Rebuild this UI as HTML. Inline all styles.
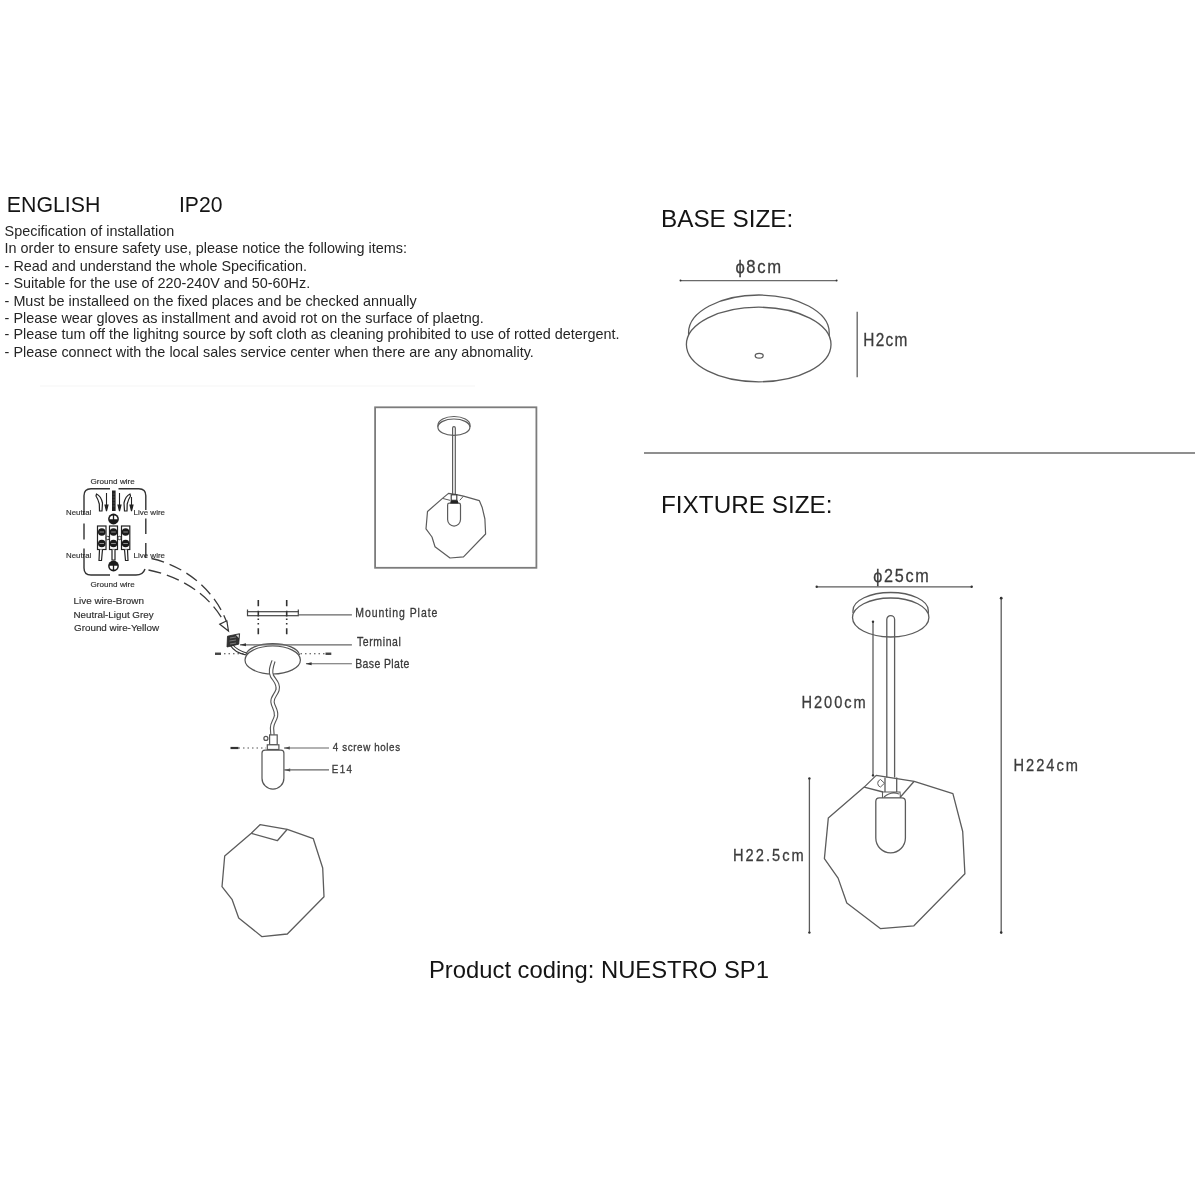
<!DOCTYPE html>
<html><head><meta charset="utf-8">
<style>
html,body{margin:0;padding:0;background:#fff;}
body{width:1200px;height:1200px;overflow:hidden;position:relative;}
svg{position:absolute;left:0;top:0;will-change:transform;}
text{font-family:"Liberation Sans",sans-serif;}
</style></head>
<body>
<svg width="1200" height="1200" viewBox="0 0 1200 1200">
<g fill="#141414">
<text x="6.8" y="212.3" font-size="21.7" textLength="93.5" lengthAdjust="spacingAndGlyphs">ENGLISH</text>
<text x="179" y="212.3" font-size="21.4" textLength="43.5" lengthAdjust="spacingAndGlyphs">IP20</text>
</g>
<g fill="#252525" font-size="14.4">
<text x="4.6" y="236.4">Specification of installation</text>
<text x="4.6" y="253.2">In order to ensure safety use, please notice the following items:</text>
<text x="4.6" y="270.8">- Read and understand the whole Specification.</text>
<text x="4.6" y="287.7">- Suitable for the use of 220-240V and 50-60Hz.</text>
<text x="4.6" y="305.5">- Must be installeed on the fixed places and be checked annually</text>
<text x="4.6" y="322.5">- Please wear gloves as installment and avoid rot on the surface of plaetng.</text>
<text x="4.6" y="339.3">- Please tum off the lighitng source by soft cloth as cleaning prohibited to use of rotted detergent.</text>
<text x="4.6" y="356.8">- Please connect with the local sales service center when there are any abnomality.</text>
</g>
<line x1="40" y1="386" x2="475" y2="386" stroke="#f5f5f5" stroke-width="1"/>
<g fill="#141414">
<text x="661" y="226.7" font-size="24.3">BASE SIZE:</text>
<text x="661" y="512.5" font-size="24.3">FIXTURE SIZE:</text>
<text x="429" y="977.7" font-size="23.8">Product coding: NUESTRO SP1</text>
</g>
<line x1="644" y1="453" x2="1195" y2="453" stroke="#8f8f8f" stroke-width="2"/>
<g fill="none" stroke="#5c5c5c" stroke-width="1.3">
<line x1="680.5" y1="280.7" x2="836.6" y2="280.7" stroke="#6a6a6a" stroke-width="1.3"/>
<line x1="857.2" y1="311.8" x2="857.2" y2="377.2" stroke="#6a6a6a" stroke-width="1.4"/>
<path d="M688.6 341 L688.6 332.5 A70.3 37.5 0 0 1 829.2 332.5 L829.2 340"/>
<ellipse cx="758.7" cy="344.5" rx="72.3" ry="37.3" fill="#fff"/>
<ellipse cx="759.2" cy="355.7" rx="4" ry="2.4"/>
</g>
<g transform="translate(735.4,272.5) scale(0.9,1)"><text x="0" y="0" font-size="18.5" textLength="50.78" lengthAdjust="spacing" fill="#3c3c3c" stroke="#3c3c3c" stroke-width="0.3">&#x3d5;8cm</text></g>

<g transform="translate(863.3,345.8) scale(0.88,1)"><text x="0" y="0" font-size="17.5" textLength="50.05" lengthAdjust="spacing" fill="#3c3c3c" stroke="#3c3c3c" stroke-width="0.3">H2cm</text></g>

<g fill="none" stroke="#5c5c5c" stroke-width="1.3">
<line x1="816.7" y1="586.8" x2="971.7" y2="586.8"/>
<line x1="1001.2" y1="598.2" x2="1001.2" y2="932.6"/>
<line x1="809.4" y1="778.4" x2="809.4" y2="932.6"/>
<path d="M853 613 L853 610.5 A37.6 18 0 0 1 928.3 610.5 L928.3 614"/>
<ellipse cx="890.7" cy="617.5" rx="38.2" ry="19.5" fill="#fff"/>
<line x1="873" y1="621.7" x2="873" y2="775.4"/>
<path d="M886.8 777.5 L886.8 619.5 A3.9 3.9 0 0 1 894.6 619.5 L894.6 777.5"/>
<path d="M876.2 775.4 L914.2 781.3 L952.9 793.6 L962.7 831.5 L964.9 873.8 L913.9 925.8 L880.3 928.6 L846.8 903 L838.1 878.1 L824.4 858.6 L828.3 818.1 L864.2 787.1 Z" stroke-linejoin="round"/>
<path d="M864.2 787.1 L883 792 M914.2 781.3 L900 797.5"/>
<path d="M885 777.5 L885 792 M896.7 777.5 L896.7 792"/>
<path d="M880.5 779.5 Q877.5 780.5 877.7 783.5 Q878 786.5 880.5 787 L884.5 783.2 Z" stroke-width="1"/>
<path d="M882.5 792 L900 792 L900.5 798.3 L882.5 798.3 Z M884 797 Q891 791 899 794" stroke-width="1.1"/>
<path d="M875.8 801.5 Q875.8 797.9 879.5 797.9 L901.7 797.9 Q905.4 797.9 905.4 801.5 L905.4 838 A14.8 14.8 0 0 1 875.8 838 Z" fill="#fff"/>
</g>
<g fill="#333">
<circle cx="816.7" cy="586.8" r="1.2"/><circle cx="971.7" cy="586.8" r="1.2"/>
<circle cx="1001.2" cy="598.2" r="1.4"/><circle cx="1001.2" cy="932.6" r="1.3"/>
<circle cx="873" cy="621.7" r="1.2"/><circle cx="873" cy="775.4" r="1.2"/>
<circle cx="809.4" cy="778.4" r="1.2"/><circle cx="809.4" cy="932.6" r="1.2"/>
<circle cx="680.5" cy="280.5" r="1"/><circle cx="836.6" cy="280.5" r="1"/>
</g>
<g transform="translate(873.2,581.6) scale(0.9,1)"><text x="0" y="0" font-size="18.0" textLength="61.67" lengthAdjust="spacing" fill="#3c3c3c" stroke="#3c3c3c" stroke-width="0.3">&#x3d5;25cm</text></g>

<g transform="translate(801.4,707.5) scale(0.85,1)"><text x="0" y="0" font-size="17.2" textLength="75.71" lengthAdjust="spacing" fill="#3c3c3c" stroke="#3c3c3c" stroke-width="0.3">H200cm</text></g>

<g transform="translate(1013.5,770.5) scale(0.85,1)"><text x="0" y="0" font-size="17.2" textLength="75.83" lengthAdjust="spacing" fill="#3c3c3c" stroke="#3c3c3c" stroke-width="0.3">H224cm</text></g>

<g transform="translate(733.0,861.4) scale(0.85,1)"><text x="0" y="0" font-size="17.2" textLength="83.29" lengthAdjust="spacing" fill="#3c3c3c" stroke="#3c3c3c" stroke-width="0.3">H22.5cm</text></g>

<rect x="375.1" y="407.3" width="161.3" height="160.5" fill="none" stroke="#7c7c7c" stroke-width="1.8"/>
<g fill="none" stroke="#5c5c5c" stroke-width="1.2">
<path d="M438 427 L438 425 A16 8.5 0 0 1 470 425 L470 427"/>
<ellipse cx="453.9" cy="427.2" rx="16" ry="8.2" fill="#fff"/>
<path d="M452.6 495 L452.6 428 A1.35 1.35 0 0 1 455.3 428 L455.3 495"/>
<path d="M448.5 493.4 L455.3 494.3 L463.5 496.1 L479.3 500.6 L482.3 507.8 L484.9 519 L485.6 534 L463.5 556.9 L450 558 L435 546.8 L432 537 L426 528.8 L427.5 511.5 L442.5 498.4 Z" stroke-linejoin="round"/>
<path d="M442.5 498.4 L450 500.3 M459.8 500.3 L463.5 496.1" stroke-width="1"/>
<path d="M447.6 505 Q447.6 503.2 449.4 503.2 L458.7 503.2 Q460.5 503.2 460.5 505 L460.5 519.6 A6.45 6.45 0 0 1 447.6 519.6 Z" fill="#fff"/>
</g>
<rect x="451.2" y="494.8" width="5.6" height="5.5" fill="#fff" stroke="#333" stroke-width="1.1"/><path d="M450.2 503.6 L450.7 500.6 L457.8 500.6 L458.5 503.6 Z" fill="#222"/>
<g fill="none" stroke="#5c5c5c" stroke-width="1.3" stroke-linejoin="round">
<path d="M260 824.7 L287.3 829.3 L313.3 838.7 L322.7 868 L324 896.7 L287.3 934 L262 936.7 L238.7 918 L232 899.3 L222 886.7 L224.7 856 L251.3 833.3 Z"/>
<path d="M287.3 829.3 L277.3 840.7 L251.3 833.3"/>
</g>
<g fill="none" stroke="#3a3a3a" stroke-width="1.3" stroke-dasharray="13 6">
<path d="M151.5 558.5 C185 566 215 590 227 623"/>
<path d="M148.5 570 C180 576 210 595 224 622"/>
</g>
<path d="M219.8 624.2 L228.5 631 L226.8 620.8 Z" fill="#fff" stroke="#333" stroke-width="1.2" stroke-linejoin="miter"/>
<g fill="none" stroke="#444">
<line x1="215" y1="653.75" x2="331.3" y2="653.75" stroke-width="1.2" stroke-dasharray="1.5 3"/>
<line x1="215" y1="653.75" x2="221" y2="653.75" stroke-width="2.4"/>
<line x1="325.5" y1="653.75" x2="331.3" y2="653.75" stroke-width="2.4"/>
<rect x="247.5" y="611.7" width="50.8" height="4" stroke-width="1.2"/>
<path d="M247.5 612 L247.5 609.5 M298.3 612 L298.3 609.5" stroke-width="1.2"/>
<line x1="298.3" y1="614.8" x2="351.9" y2="614.8" stroke-width="1.2" stroke="#666"/>
<path d="M258.3 600 L258.3 606.3 M258.3 610.8 L258.3 616.5 M258.3 618.5 L258.3 620 M258.3 623 L258.3 624.5 M258.3 628.3 L258.3 634.3 M286.7 600 L286.7 606.3 M286.7 610.8 L286.7 616.5 M286.7 618.5 L286.7 620 M286.7 623 L286.7 624.5 M286.7 628.3 L286.7 634.3" stroke-width="1.6" stroke="#333"/>
</g>
<g fill="none" stroke="#555" stroke-width="1.2">
<path d="M245.8 655 A27 12.5 0 0 1 299.6 655"/>
<ellipse cx="272.7" cy="660" rx="27.7" ry="14" fill="#fff"/>
<line x1="240" y1="644.8" x2="351.9" y2="644.8" stroke="#666"/>
<line x1="306" y1="663.75" x2="351.9" y2="663.75" stroke="#666"/>
<path d="M230 645 C234 651 238 653 246 655" stroke="#333" stroke-width="1.2"/>
<path d="M232 644 C236 649 240 651 246.5 653" stroke="#333" stroke-width="1.1"/>
</g>
<path d="M227.5 636.2 L239.6 633.7 L238.7 644.2 L227 647 Z" fill="#333" stroke="#222" stroke-width="0.8"/><path d="M230 638 L236 637 M229.5 641 L236 640 M230 644 L236 643" stroke="#999" stroke-width="0.7"/>
<path d="M236 635 L239 634.5 L238.7 638" fill="#ddd"/>
<g fill="#333">
<path d="M240 644.8 L246 643.3 L246 646.3 Z"/>
<path d="M305.6 663.75 L311.6 662.2 L311.6 665.3 Z"/>
<path d="M283.8 748 L289.8 746.5 L289.8 749.5 Z"/>
<path d="M284.2 769.9 L290.2 768.4 L290.2 771.4 Z"/>
</g>
<path d="M273.5 661 C271 668 270 672 272 676 C275 681 279 684 277.5 690 C276 695 272 697 272.5 702 C273 707 277 710 276 716 C275 721 272 723 272 728 L272.5 735" fill="none" stroke="#555" stroke-width="4.4"/>
<path d="M273.5 661 C271 668 270 672 272 676 C275 681 279 684 277.5 690 C276 695 272 697 272.5 702 C273 707 277 710 276 716 C275 721 272 723 272 728 L272.5 736" fill="none" stroke="#fff" stroke-width="2.2"/>
<g fill="#fff" stroke="#555" stroke-width="1.2">
<rect x="269.6" y="734.9" width="7.6" height="9.9"/>
<rect x="267.3" y="744.8" width="11.6" height="4.7"/>
<circle cx="265.9" cy="738.4" r="2"/>
<path d="M262 753 Q262 750.1 265 750.1 L281 750.1 Q283.9 750.1 283.9 753 L283.9 778.2 A10.95 10.95 0 0 1 262 778.2 Z"/>
</g>
<g stroke="#555" stroke-width="1.2" fill="none">
<line x1="238.5" y1="748" x2="266" y2="748" stroke-dasharray="1.5 3"/>
<line x1="230.5" y1="748" x2="238.5" y2="748" stroke-width="2.2" stroke="#333"/>
<line x1="284" y1="748" x2="329" y2="748" stroke="#666"/>
<line x1="284.2" y1="769.9" x2="329" y2="769.9" stroke="#666"/>
</g>
<g stroke="#3a3a3a" stroke-width="0.25">
<g transform="translate(355.25,616.5) scale(0.86,1)"><text x="0" y="0" font-size="12.2" textLength="95.45" lengthAdjust="spacing" fill="#3a3a3a" stroke="#3a3a3a" stroke-width="0.3">Mounting Plate</text></g>

<g transform="translate(356.9,645.6) scale(0.86,1)"><text x="0" y="0" font-size="12.2" textLength="51.16" lengthAdjust="spacing" fill="#3a3a3a" stroke="#3a3a3a" stroke-width="0.3">Terminal</text></g>

<g transform="translate(355.25,668.1) scale(0.86,1)"><text x="0" y="0" font-size="12.2" textLength="62.9" lengthAdjust="spacing" fill="#3a3a3a" stroke="#3a3a3a" stroke-width="0.3">Base Plate</text></g>

<g transform="translate(332.75,751.1) scale(0.9,1)"><text x="0" y="0" font-size="10.9" textLength="74.83" lengthAdjust="spacing" fill="#3a3a3a" stroke="#3a3a3a" stroke-width="0.3">4 screw holes</text></g>

<g transform="translate(331.75,772.9) scale(0.9,1)"><text x="0" y="0" font-size="10.9" textLength="22.39" lengthAdjust="spacing" fill="#3a3a3a" stroke="#3a3a3a" stroke-width="0.3">E14</text></g>

</g>
<g fill="none" stroke="#333" stroke-width="1.4">
<path d="M110 488.7 L91 488.7 Q84 488.7 84 495.7 L84 515"/>
<path d="M118.5 488.7 L138.8 488.7 Q145.8 488.7 145.8 495.7 L145.8 510"/>
<path d="M84 523.5 L84 539.5 M84 548.5 L84 568 Q84 575 91 575 L110 575"/>
<path d="M145.8 518.5 L145.8 534 M145.8 543 L145.8 558"/>
<path d="M118.5 575 L136 575 Q143 575 145 569"/>
</g>
<g fill="#fff" stroke="#222" stroke-width="1.2">
<path d="M96.5 494 Q101 496 102.5 503 L102 511 L99.5 511 L99.3 504 Q98 499 96 496 Z"/>
<path d="M130 494 Q125.5 496 124 503 L124.5 511 L127 511 L127.2 504 Q128.5 499 130.5 496 Z"/>
<rect x="97.5" y="526" width="8.5" height="23.5"/>
<rect x="109.5" y="526" width="8" height="23.5"/>
<rect x="121.5" y="526" width="8.3" height="23.5"/>
<path d="M99.5 549.5 L99 560.5 L101.5 560.5 L102.5 549.5"/>
<path d="M112 549.5 L112 560 L115 560 L115 549.5"/>
<path d="M124.5 549.5 L125.5 560.5 L128 560.5 L127.5 549.5"/>
</g>
<rect x="112" y="490.5" width="3.6" height="20.5" fill="#222"/>
<g stroke="#666" stroke-width="0.6"><path d="M112.5 494 L115 494 M112.5 497 L115 497 M112.5 500 L115 500 M112.5 503 L115 503 M112.5 506 L115 506"/></g>
<g stroke="#222" stroke-width="1.1" fill="#222">
<line x1="106.5" y1="493" x2="106.5" y2="506"/><path d="M105 505 L108 505 L106.5 511 Z"/>
<line x1="119.5" y1="493" x2="119.5" y2="506"/><path d="M118 505 L121 505 L119.5 511 Z"/>
<line x1="131.5" y1="497" x2="131.5" y2="506"/><path d="M130 505 L133 505 L131.5 511 Z"/>
</g>
<g fill="#1a1a1a">
<circle cx="113.5" cy="519" r="5.4"/>
<circle cx="113.5" cy="566" r="5.4"/>
<circle cx="101.8" cy="532" r="3.8"/><circle cx="113.5" cy="532" r="3.8"/><circle cx="125.6" cy="532" r="3.8"/>
<circle cx="101.8" cy="543.5" r="3.8"/><circle cx="113.5" cy="543.5" r="3.8"/><circle cx="125.6" cy="543.5" r="3.8"/>
</g>
<g stroke="#aaa" stroke-width="0.8"><path d="M99.5 532 L104 532 M111.2 532 L115.8 532 M123.3 532 L127.9 532 M99.5 543.5 L104 543.5 M111.2 543.5 L115.8 543.5 M123.3 543.5 L127.9 543.5"/></g>
<path d="M109.6 519.3 A3.9 3.9 0 0 1 117.4 519.3 Z" fill="#fff"/>
<path d="M109.6 565.7 A3.9 3.9 0 0 0 117.4 565.7 Z" fill="#fff"/>
<g stroke="#1a1a1a" stroke-width="1.3"><path d="M113.5 514.5 L113.5 520 M113.5 565 L113.5 571"/></g>
<g fill="#fff" stroke="#222" stroke-width="0.9">
<circle cx="107.7" cy="538" r="1.7"/><circle cx="119.5" cy="538" r="1.7"/>
</g>
<g fill="#2e2e2e" stroke="#2e2e2e" stroke-width="0.15">
<text x="90.5" y="483.5" font-size="8" textLength="44.32" lengthAdjust="spacingAndGlyphs" fill="#2e2e2e" >Ground wire</text>

<text x="66" y="514.5" font-size="8" textLength="25.29" lengthAdjust="spacingAndGlyphs" fill="#2e2e2e" >Neutral</text>

<text x="133.5" y="514.5" font-size="8" textLength="31.53" lengthAdjust="spacingAndGlyphs" fill="#2e2e2e" >Live wire</text>

<text x="66" y="557.5" font-size="8" textLength="25.29" lengthAdjust="spacingAndGlyphs" fill="#2e2e2e" >Neutral</text>

<text x="133.5" y="557.5" font-size="8" textLength="31.53" lengthAdjust="spacingAndGlyphs" fill="#2e2e2e" >Live wire</text>

<text x="90.5" y="587" font-size="8" textLength="44.32" lengthAdjust="spacingAndGlyphs" fill="#2e2e2e" >Ground wire</text>

<text x="73.5" y="604.2" font-size="9.4" textLength="70.4" lengthAdjust="spacingAndGlyphs" fill="#2e2e2e" >Live wire-Brown</text>

<text x="73.5" y="617.6" font-size="9.4" textLength="80.06" lengthAdjust="spacingAndGlyphs" fill="#2e2e2e" >Neutral-Ligut Grey</text>

<text x="74" y="631.1" font-size="9.4" textLength="85.0" lengthAdjust="spacingAndGlyphs" fill="#2e2e2e" >Ground wire-Yellow</text>

</g>
</svg>
</body></html>
